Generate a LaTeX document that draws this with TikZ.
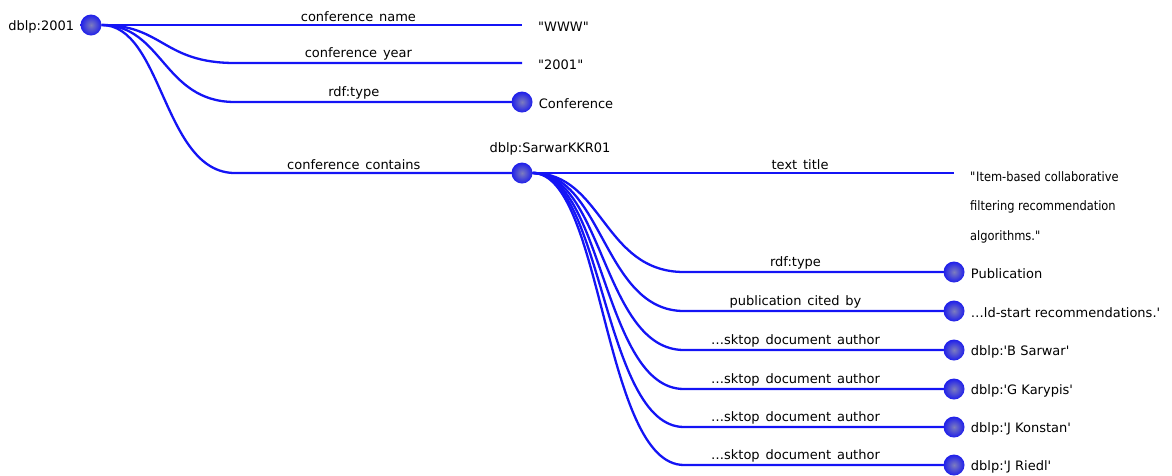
\documentclass[tikz,border=0pt]{standalone}
\usepackage{fontspec}
\setmainfont{DejaVu Sans}
\newfontfamily\condfont{DejaVu Sans}[FakeStretch=0.88]
\usetikzlibrary{positioning, calc}

\definecolor{edgeblue}{RGB}{20,20,245}
\definecolor{ballcore}{RGB}{125,125,190}
\definecolor{ballrim}{RGB}{30,30,235}

\begin{document}
\begin{tikzpicture}[
  x=1pt, y=-1pt,
  font=\fontsize{13}{15}\selectfont,
  ent/.style={circle, minimum size=21pt, inner sep=0pt, inner color=ballcore, outer color=ballrim},
  every label/.style={inner xsep=6pt, inner ysep=0pt, yshift=-2pt},
  edge/.style={draw=edgeblue, line width=2.3pt},
  elabel/.style={above, pos=0.43, inner sep=1.8pt, font={\fontsize{13}{15}\selectfont\spaceskip=0.45em\relax}},
  lit/.style={inner xsep=16pt, inner ysep=0pt, yshift=-2pt}
]
  \useasboundingbox (0,0) rectangle (1172,475);

  % resources
  \node[ent, label=left:dblp:2001] (d2001) at (91,25) {};
  \node[ent, label=right:Conference] (conf) at (522,102) {};
  \node[ent] (sarwar) at (522,173) {};
  \node (sarwarlbl) at (550,149) {dblp:SarwarKKR01};
  \node[ent, label=right:Publication] (pub) at (954,272) {};
  \node[ent, label=right:{\dots{}ld-start recommendations.\textquotesingle}] (cited) at (954,311) {};
  \node[ent, label=right:{dblp:\textquotesingle B Sarwar\textquotesingle}] (bsarwar) at (954,350) {};
  \node[ent, label=right:{dblp:\textquotesingle G Karypis\textquotesingle}] (karypis) at (954,389) {};
  \node[ent, label=right:{dblp:\textquotesingle J Konstan\textquotesingle}] (konstan) at (954,427) {};
  \node[ent, label=right:{dblp:\textquotesingle J Riedl\textquotesingle}] (riedl) at (954,465) {};

  % literals
  \coordinate (wwwend) at (522,25);
  \node[lit, right=0pt of wwwend] (www) {\textquotedbl WWW\textquotedbl};
  \coordinate (yearend) at (522,63);
  \node[lit, right=0pt of yearend] (year) {\textquotedbl 2001\textquotedbl};
  \coordinate (titleend) at (954,173);
  \node[lit, anchor=north west, align=left, font=\condfont\fontsize{13}{29.5}\selectfont] (title) at (954,169)
    {\textquotedbl Item-based collaborative\\filtering recommendation\\algorithms.\textquotedbl};

  % bend columns
  \coordinate (col1) at (235,0);
  \coordinate (col2) at (684,0);

  \foreach \tgt/\txt in {wwwend/conference name, yearend/conference year, conf/rdf:type, sarwar/conference contains}
    \draw[edge] (d2001) .. controls +(72,0) and +(-72,0) .. (col1 |- \tgt) -- node[elabel] {\txt} (\tgt);

  \foreach \tgt/\txt in {titleend/text title, pub/rdf:type, cited/publication cited by,
      bsarwar/\dots{}sktop document author, karypis/\dots{}sktop document author,
      konstan/\dots{}sktop document author, riedl/\dots{}sktop document author}
    \draw[edge] (sarwar) .. controls +(81,0) and +(-81,0) .. (col2 |- \tgt) -- node[elabel] {\txt} (\tgt);
\end{tikzpicture}
\end{document}
